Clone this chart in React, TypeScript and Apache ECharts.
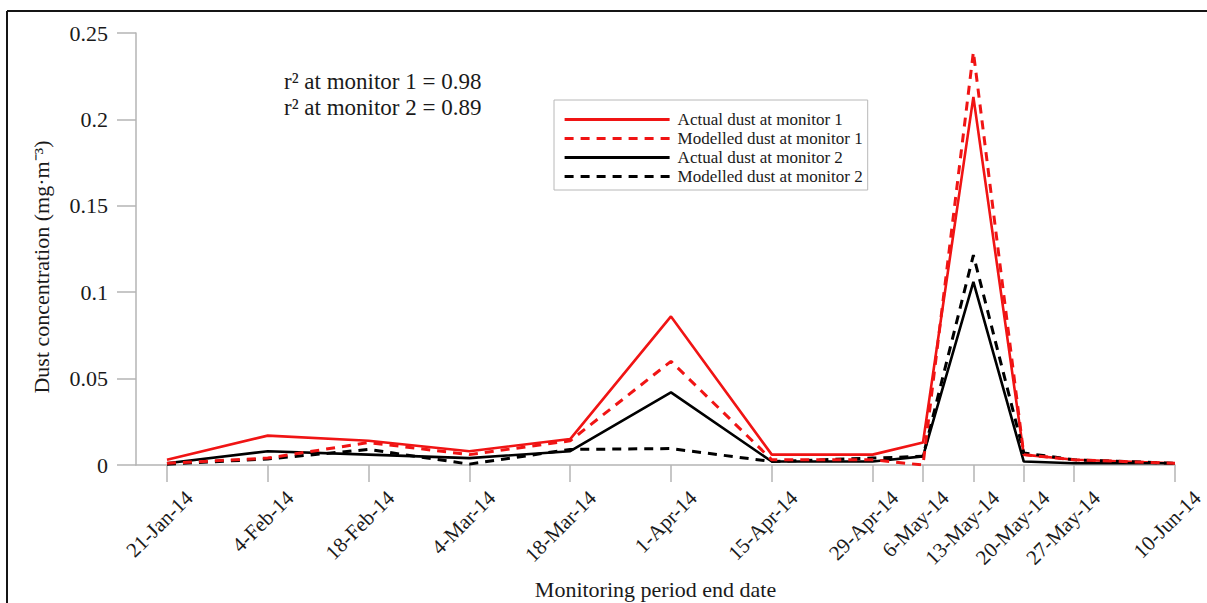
import React, { useEffect, useRef } from 'react';
import * as echarts from 'echarts';

const dates = ['2014-01-21', '2014-02-04', '2014-02-18', '2014-03-04', '2014-03-18', '2014-04-01', '2014-04-15', '2014-04-29', '2014-05-06', '2014-05-13', '2014-05-20', '2014-05-27', '2014-06-10'];
const actual1 = [0.003, 0.017, 0.014, 0.008, 0.015, 0.086, 0.006, 0.006, 0.013, 0.213, 0.006, 0.003, 0.001];
const modelled1 = [0.001, 0.004, 0.013, 0.006, 0.014, 0.060, 0.003, 0.003, 0.0, 0.239, 0.006, 0.003, 0.001];
const actual2 = [0.001, 0.008, 0.006, 0.004, 0.008, 0.042, 0.002, 0.002, 0.005, 0.106, 0.002, 0.001, 0.001];
const modelled2 = [0.0005, 0.0035, 0.009, 0.0005, 0.009, 0.0095, 0.002, 0.004, 0.005, 0.1215, 0.007, 0.003, 0.001];
const seriesNames = ['Actual dust at monitor 1', 'Modelled dust at monitor 1', 'Actual dust at monitor 2', 'Modelled dust at monitor 2'];
const annotations = ['r² at monitor 1 = 0.98', 'r² at monitor 2 = 0.89'];
const yTitle = 'Dust concentration (mg·m⁻³)';
const xTitle = 'Monitoring period end date';

const MONTHS = ['Jan', 'Feb', 'Mar', 'Apr', 'May', 'Jun', 'Jul', 'Aug', 'Sep', 'Oct', 'Nov', 'Dec'];
const DAY = 86400000;
const toMs = (s: string) => {
  const [y, m, d] = s.split('-').map(Number);
  return Date.UTC(y, m - 1, d);
};
const fmt = (ms: number) => {
  const d = new Date(ms);
  return `${d.getUTCDate()}-${MONTHS[d.getUTCMonth()]}-${String(d.getUTCFullYear()).slice(2)}`;
};

const FONT = "'Liberation Serif', 'Times New Roman', serif";
const RED = '#f01414';
const BLACK = '#000000';

export default function App() {
  const ref = useRef<HTMLDivElement>(null);
  useEffect(() => {
    if (!ref.current) return;
    const chart = echarts.init(ref.current, undefined, { renderer: 'svg' });
    const xs = dates.map(toMs);
    const mk = (vals: number[]) => xs.map((x, i) => [x, vals[i]]);
    const seriesData = [actual1, modelled1, actual2, modelled2];
    const colors = [RED, RED, BLACK, BLACK];
    const dashed = [false, true, false, true];
    chart.setOption({
      animation: false,
      grid: { left: 136, right: 32, top: 33, bottom: 138, outerBoundsMode: 'none', containLabel: false },
      xAxis: {
        type: 'value',
        min: xs[0] - 4.3 * DAY,
        max: xs[xs.length - 1],
        name: xTitle,
        nameLocation: 'middle',
        nameGap: 113,
        nameMoveOverlap: false,
        nameTextStyle: { fontFamily: FONT, fontSize: 22, color: '#1a1a1a' },
        axisLine: { show: true, lineStyle: { color: '#b4b4b4', width: 1.5 } },
        axisTick: { show: true, length: 17, customValues: xs, lineStyle: { color: '#b4b4b4', width: 1.5 } },
        axisLabel: {
          customValues: xs,
          formatter: (v: number) => fmt(v),
          rotate: 45,
          margin: 7,
          verticalAlign: 'top',
          padding: [21, 0, 0, 0],
          fontFamily: FONT,
          fontSize: 21,
          color: '#1a1a1a',
        },
        splitLine: { show: false },
      },
      yAxis: {
        type: 'value',
        min: 0,
        max: 0.25,
        interval: 0.05,
        name: yTitle,
        nameLocation: 'middle',
        nameGap: 84,
        nameMoveOverlap: false,
        nameTextStyle: { fontFamily: FONT, fontSize: 22, color: '#1a1a1a', padding: [0, 36, 0, 0] },
        axisLine: { show: true, lineStyle: { color: '#b4b4b4', width: 1.5 } },
        axisTick: { show: true, length: 19, lineStyle: { color: '#b4b4b4', width: 1.5 } },
        axisLabel: { margin: 28, fontFamily: FONT, fontSize: 22, color: '#1a1a1a' },
        splitLine: { show: false },
      },
      legend: {
        orient: 'vertical',
        left: 554,
        top: 100,
        data: seriesNames,
        itemWidth: 105,
        itemHeight: 12,
        itemGap: 2,
        padding: [11, 5, 5, 9],
        borderColor: '#b8b8b8',
        borderWidth: 1,
        itemStyle: { opacity: 0 },
        lineStyle: { width: 3.2 },
        textStyle: { fontFamily: FONT, fontSize: 17, color: '#1a1a1a', padding: [0, 0, 0, 3] },
      },
      graphic: [
        { type: 'line', shape: { x1: 7, y1: 11, x2: 1207, y2: 11 }, style: { stroke: '#151515', lineWidth: 2 } },
        { type: 'line', shape: { x1: 7, y1: 11, x2: 7, y2: 603 }, style: { stroke: '#151515', lineWidth: 2 } },
        {
          type: 'text',
          left: 284,
          top: 68,
          style: { text: annotations.join('\n'), fontFamily: FONT, fontSize: 23, lineHeight: 26, fill: '#1a1a1a' },
        },
      ],
      series: seriesNames.map((name, i) => ({
        name,
        type: 'line',
        data: mk(seriesData[i]),
        symbol: 'none',
        itemStyle: { color: colors[i] },
        lineStyle: {
          color: colors[i],
          width: dashed[i] ? 3 : 2.6,
          type: dashed[i] ? [9, 7] : 'solid',
        },
        z: i === 1 ? 4 : 2 + i * 0.1,
      })),
    });
    return () => chart.dispose();
  }, []);
  return <div ref={ref} style={{ position: 'fixed', left: 0, top: 0, width: 1207, height: 603, background: '#fff' }} />;
}
